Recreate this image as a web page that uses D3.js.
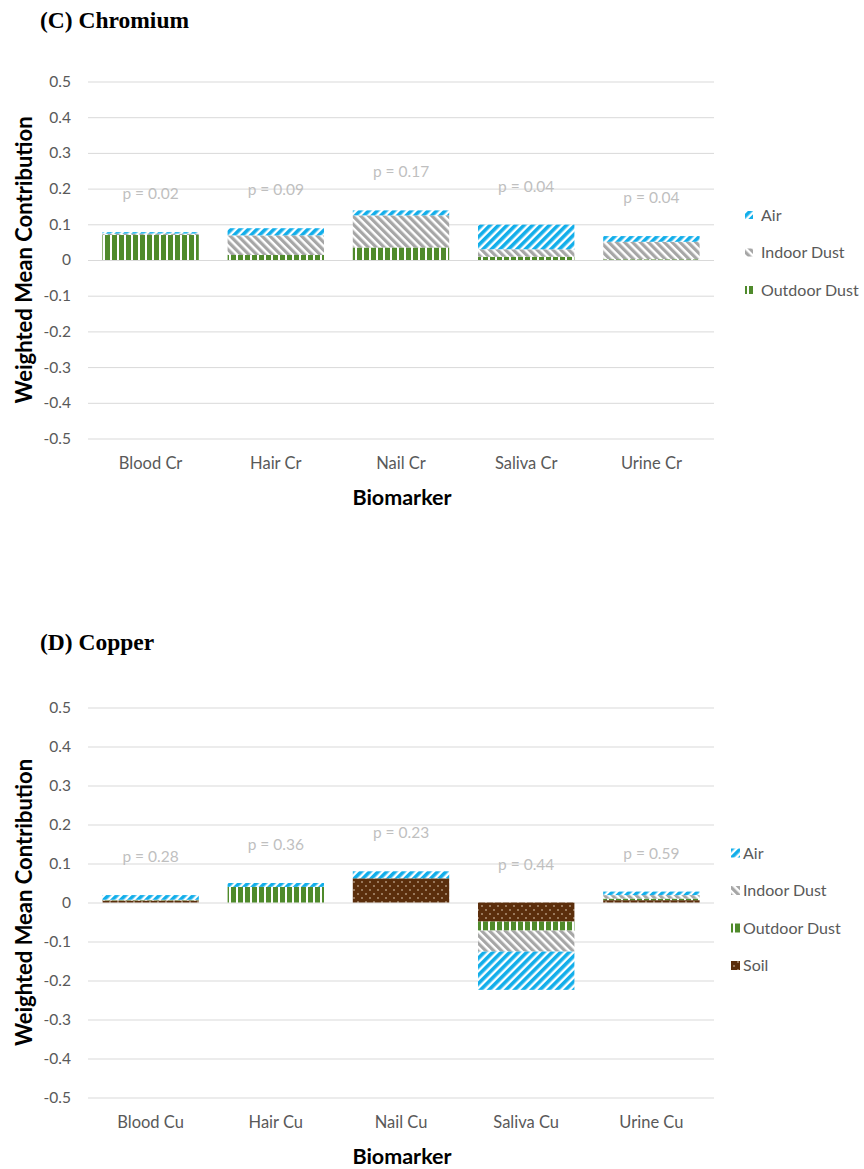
<!DOCTYPE html>
<html>
<head>
<meta charset="utf-8">
<script src="https://cdn.jsdelivr.net/npm/d3@7"></script>
<style>
  html, body { margin: 0; padding: 0; background: #fff; }
  svg { display: block; }
</style>
</head>
<body>
<svg id="fig" width="864" height="1169"></svg>
<script>
// ---- Chromium panel data ----
const crCategories = ["Blood Cr", "Hair Cr", "Nail Cr", "Saliva Cr", "Urine Cr"];
const crOutdoorDust = [0.070, 0.014, 0.035, 0.009, 0.002];
const crIndoorDust  = [0.004, 0.055, 0.090, 0.021, 0.049];
const crAir         = [0.004, 0.020, 0.014, 0.069, 0.016];
const crPValues     = ["0.02", "0.09", "0.17", "0.04", "0.04"];

// ---- Copper panel data ----
const cuCategories = ["Blood Cu", "Hair Cu", "Nail Cu", "Saliva Cu", "Urine Cu"];
const cuSoil        = [0.005, 0.000, 0.062, -0.049, 0.006];
const cuOutdoorDust = [0.001, 0.040, 0.000, -0.023, 0.004];
const cuIndoorDust  = [0.001, 0.000, 0.000, -0.054, 0.009];
const cuAir         = [0.012, 0.010, 0.018, -0.098, 0.009];
const cuPValues     = ["0.28", "0.36", "0.23", "0.44", "0.59"];

const yTicks = [0.5, 0.4, 0.3, 0.2, 0.1, 0, -0.1, -0.2, -0.3, -0.4, -0.5];

const svg = d3.select("#fig");
const defs = svg.append("defs");

// hatch fills for each source
function stripePattern(id, color, angle, period, band) {
  const p = defs.append("pattern")
    .attr("id", id).attr("patternUnits", "userSpaceOnUse")
    .attr("width", period).attr("height", period)
    .attr("patternTransform", `rotate(${angle})`);
  p.append("rect").attr("width", period).attr("height", period).attr("fill", "#fff");
  p.append("rect").attr("width", band).attr("height", period).attr("fill", color);
}
stripePattern("pat-air", "#12AEEA", 45, 6, 3.6);
stripePattern("pat-indoor", "#A6A6A6", -45, 5.6, 3.2);
stripePattern("pat-outdoor", "#4F8A2B", 0, 7, 5);
(function () {
  const p = defs.append("pattern")
    .attr("id", "pat-soil").attr("patternUnits", "userSpaceOnUse")
    .attr("width", 8).attr("height", 8);
  p.append("rect").attr("width", 8).attr("height", 8).attr("fill", "#5B2E0C");
  p.append("circle").attr("cx", 2).attr("cy", 2).attr("r", 0.8).attr("fill", "#E8D6C0");
  p.append("circle").attr("cx", 6).attr("cy", 6).attr("r", 0.8).attr("fill", "#E8D6C0");
})();

const fills = {
  "Air": "url(#pat-air)",
  "Indoor Dust": "url(#pat-indoor)",
  "Outdoor Dust": "url(#pat-outdoor)",
  "Soil": "url(#pat-soil)"
};

const FONT = "Lato, 'Open Sans', sans-serif";

function drawPanel(cfg) {
  const g = svg.append("g");
  const x = d3.scaleBand().domain(cfg.categories).range([88, 714]).paddingInner(0.23).paddingOuter(0.115);
  const y = d3.scaleLinear().domain([-0.5, 0.5]).range([cfg.bottom, cfg.top]);

  // title
  g.append("text").attr("x", 40).attr("y", cfg.titleY)
    .attr("font-family", "'Liberation Serif', 'Times New Roman', serif")
    .attr("font-weight", "bold").attr("font-size", 23.5).attr("fill", "#000")
    .text(cfg.title);

  // gridlines + tick labels
  const yAxis = d3.axisLeft(y).tickValues(yTicks)
    .tickSize(-(714 - 88)).tickPadding(17)
    .tickFormat(d => d === 0 ? "0" : d.toFixed(1));
  const ax = g.append("g").attr("transform", "translate(88,0)").call(yAxis);
  ax.select(".domain").remove();
  ax.selectAll(".tick line").attr("stroke", "#D9D9D9").attr("stroke-width", 1);
  ax.selectAll(".tick text").attr("font-family", FONT).attr("font-size", 15.5).attr("fill", "#595959");

  // stacked bars
  const rows = cfg.categories.map((c, i) => {
    const r = { category: c };
    cfg.series.forEach(s => r[s.name] = s.values[i]);
    return r;
  });
  const stack = d3.stack().keys(cfg.series.map(s => s.name)).offset(d3.stackOffsetDiverging);
  const layers = stack(rows);
  g.selectAll("g.layer").data(layers).join("g").attr("class", "layer")
    .attr("fill", d => fills[d.key])
    .selectAll("rect").data(d => d).join("rect")
    .attr("x", d => x(d.data.category))
    .attr("width", x.bandwidth())
    .attr("y", d => y(Math.max(d[0], d[1])))
    .attr("height", d => Math.abs(y(d[0]) - y(d[1])));

  // p-value labels above each bar
  cfg.categories.forEach((c, i) => {
    const posTop = d3.sum(cfg.series, s => Math.max(0, s.values[i]));
    g.append("text")
      .attr("x", x(c) + x.bandwidth() / 2)
      .attr("y", y(posTop) - 33)
      .attr("text-anchor", "middle")
      .attr("font-family", FONT).attr("font-size", 15.5).attr("fill", "#BFBFBF")
      .text("p = " + cfg.pValues[i]);
  });

  // category labels
  g.selectAll("text.cat").data(cfg.categories).join("text").attr("class", "cat")
    .attr("x", d => x(d) + x.bandwidth() / 2)
    .attr("y", cfg.bottom + 30)
    .attr("text-anchor", "middle")
    .attr("font-family", FONT).attr("font-size", 16.5).attr("fill", "#595959")
    .text(d => d);

  // axis titles
  g.append("text").attr("x", 402).attr("y", cfg.bottom + 66)
    .attr("text-anchor", "middle")
    .attr("font-family", FONT).attr("font-weight", "bold").attr("font-size", 21.5).attr("fill", "#000")
    .text("Biomarker");
  const midY = (y(0.5) + y(-0.5)) / 2;
  g.append("text")
    .attr("transform", `translate(32,${midY}) rotate(-90)`)
    .attr("text-anchor", "middle")
    .attr("font-family", FONT).attr("font-weight", "bold").attr("font-size", 22).attr("fill", "#000")
    .text("Weighted Mean Contribution");

  // legend (top series first)
  const legendSeries = cfg.series.slice().reverse();
  legendSeries.forEach((s, i) => {
    const ly = cfg.legendY + i * cfg.legendStep;
    g.append("rect").attr("x", cfg.legendX).attr("y", ly - cfg.swatch / 2)
      .attr("width", cfg.swatch).attr("height", cfg.swatch).attr("fill", fills[s.name]);
    g.append("text").attr("x", cfg.legendX + cfg.legendGap).attr("y", ly + 5.5)
      .attr("font-family", FONT).attr("font-size", 16).attr("fill", "#595959")
      .text(s.name);
  });
}

drawPanel({
  title: "(C) Chromium", titleY: 28,
  categories: crCategories,
  series: [
    { name: "Outdoor Dust", values: crOutdoorDust },
    { name: "Indoor Dust", values: crIndoorDust },
    { name: "Air", values: crAir }
  ],
  pValues: crPValues,
  top: 81.5, bottom: 438.5,
  legendX: 745, legendGap: 16, legendY: 215, legendStep: 37.5, swatch: 8
});

drawPanel({
  title: "(D) Copper", titleY: 650,
  categories: cuCategories,
  series: [
    { name: "Soil", values: cuSoil },
    { name: "Outdoor Dust", values: cuOutdoorDust },
    { name: "Indoor Dust", values: cuIndoorDust },
    { name: "Air", values: cuAir }
  ],
  pValues: cuPValues,
  top: 707.5, bottom: 1097.5,
  legendX: 731, legendGap: 12, legendY: 853, legendStep: 37.5, swatch: 9
});
</script>
</body>
</html>
